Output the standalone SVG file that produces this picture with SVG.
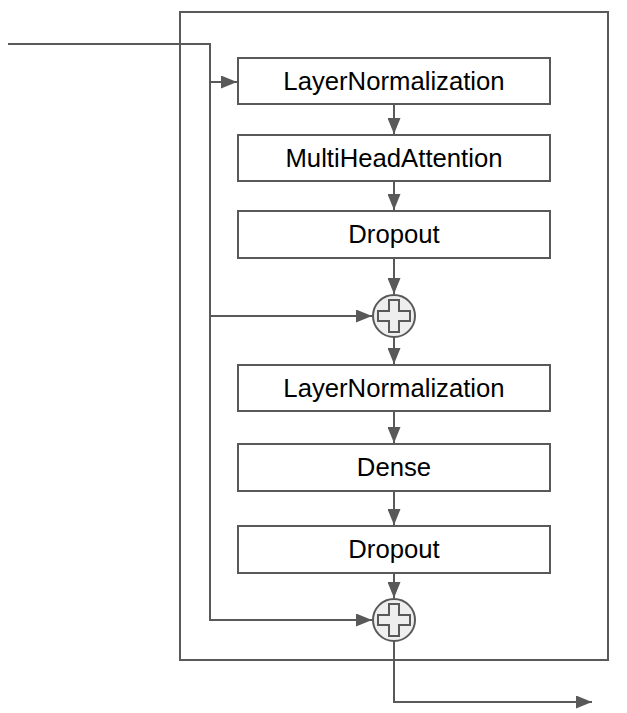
<svg xmlns="http://www.w3.org/2000/svg" width="627" height="713" viewBox="0 0 627 713">
<style>
.box{fill:#fff;stroke:#595959;stroke-width:2}
.t{font-family:"Liberation Sans",Arial,sans-serif;font-size:25.7px;fill:#000;text-anchor:middle}
.ln{fill:none;stroke:#595959;stroke-width:2}
.plus{fill:#eeeeee;stroke:#595959;stroke-width:2}
</style>
<defs>
<marker id="ah" markerWidth="16" markerHeight="13" refX="16" refY="6.5" orient="auto" markerUnits="userSpaceOnUse">
<path d="M0,0 L16,6.5 L0,13 Z" fill="#595959"/>
</marker>
</defs>
<rect id="outer" x="180" y="12" width="428" height="648" fill="none" stroke="#595959" stroke-width="2"/>
<g id="ln1"><rect class="box" x="238" y="58" width="312" height="46"/><text class="t" x="394" y="90">LayerNormalization</text></g>
<g id="mha"><rect class="box" x="238" y="135" width="312" height="46"/><text class="t" x="394" y="167">MultiHeadAttention</text></g>
<g id="drop1"><rect class="box" x="238" y="211" width="312" height="47"/><text class="t" x="394" y="243">Dropout</text></g>
<g id="add1"><circle class="plus" cx="394" cy="316" r="21"/><path class="plus" d="M389,300 h10 v11 h11 v10 h-11 v11 h-10 v-11 h-11 v-10 h11 z"/></g>
<g id="ln2"><rect class="box" x="238" y="365" width="312" height="46"/><text class="t" x="394" y="397">LayerNormalization</text></g>
<g id="dense"><rect class="box" x="238" y="444" width="312" height="47"/><text class="t" x="394" y="476">Dense</text></g>
<g id="drop2"><rect class="box" x="238" y="526" width="312" height="47"/><text class="t" x="394" y="558">Dropout</text></g>
<g id="add2"><circle class="plus" cx="394" cy="620" r="21"/><path class="plus" d="M389,604 h10 v11 h11 v10 h-11 v11 h-10 v-11 h-11 v-10 h11 z"/></g>
<g id="connectors">
<path class="ln" d="M8,44 H210 V620 H372" marker-end="url(#ah)"/>
<path class="ln" d="M210,82 H237" marker-end="url(#ah)"/>
<path class="ln" d="M210,316 H372" marker-end="url(#ah)"/>
<path class="ln" d="M394,104 V134" marker-end="url(#ah)"/>
<path class="ln" d="M394,181 V210" marker-end="url(#ah)"/>
<path class="ln" d="M394,258 V294" marker-end="url(#ah)"/>
<path class="ln" d="M394,337 V364" marker-end="url(#ah)"/>
<path class="ln" d="M394,411 V443" marker-end="url(#ah)"/>
<path class="ln" d="M394,491 V525" marker-end="url(#ah)"/>
<path class="ln" d="M394,573 V598" marker-end="url(#ah)"/>
<path class="ln" d="M394,641 V702 H592" marker-end="url(#ah)"/>
</g>
</svg>
